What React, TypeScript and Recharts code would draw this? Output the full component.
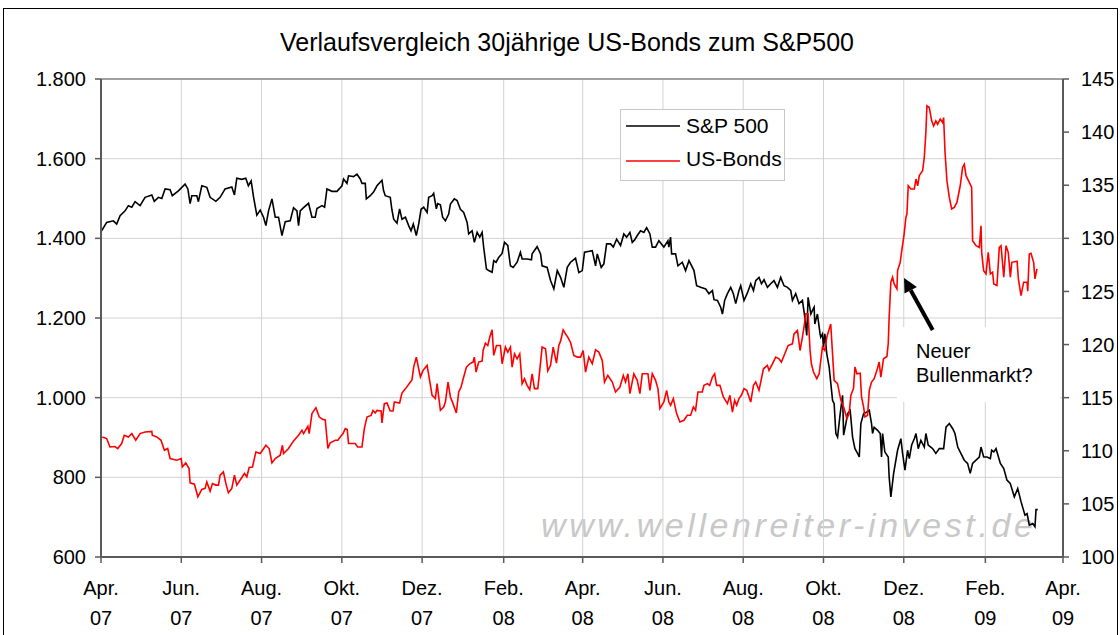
import { LineChart, Line, XAxis, YAxis, CartesianGrid, ReferenceLine } from "recharts"

const FONT = '"Liberation Sans", Arial, Helvetica, sans-serif'

// x values are days counted from 1 April 2007
const tickDays = [0, 61, 122, 183, 244, 306, 366, 427, 488, 549, 610, 672, 731]
const monthLabels = ["Apr.", "Jun.", "Aug.", "Okt.", "Dez.", "Feb.", "Apr.", "Jun.", "Aug.", "Okt.", "Dez.", "Feb.", "Apr."]
const yearLabels = ["07", "07", "07", "07", "07", "08", "08", "08", "08", "08", "08", "09", "09"]

const spTicks = [600, 800, 1000, 1200, 1400, 1600, 1800]
const bondTicks = [100, 105, 110, 115, 120, 125, 130, 135, 140, 145]

const spDays = [
  0.5, 4.3, 9.4, 11.9, 14.5, 18.3, 20.8, 23.4, 25.9, 29.7, 33.5, 38.6, 40.5, 43.6, 46.2, 48.7, 52.5, 54.2, 58.8, 63.9,
  66.0, 67.7, 69.0, 72.8, 74.0, 76.6, 80.4, 82.9, 87.3, 90.5, 94.3, 99.4, 101.4, 103.2, 107.0, 110.0, 112.0, 114.1, 115.9, 118.4,
  121.0, 123.5, 125.3, 127.3, 129.9, 132.4, 134.9, 137.5, 140.0, 143.8, 146.3, 148.9, 150.1, 151.4, 153.9, 157.7, 160.3, 162.8, 164.1, 167.9,
  169.9, 171.7, 175.5, 179.3, 183.1, 184.3, 186.9, 188.1, 191.9, 194.5, 197.0, 198.3, 200.8, 201.6, 204.6, 207.1, 209.7, 213.5, 214.7, 216.0,
  219.8, 221.0, 222.4, 224.9, 226.9, 228.7, 231.3, 233.8, 235.6, 237.3, 239.6, 241.4, 243.2, 245.2, 247.8, 249.0, 251.6, 252.8, 254.8, 255.8,
  257.9, 259.6, 261.7, 264.2, 265.5, 268.5, 270.6, 273.1, 275.6, 278.2, 279.4, 282.0, 283.7, 285.8, 287.8, 289.6, 290.8, 292.9, 294.6, 297.2,
  298.4, 300.2, 302.2, 304.8, 306.6, 309.1, 311.1, 313.2, 316.2, 318.7, 320.0, 323.8, 327.1, 327.6, 331.4, 334.0, 335.2, 339.0, 341.6, 344.1,
  346.7, 349.2, 351.7, 354.3, 356.8, 360.6, 363.1, 365.7, 367.4, 373.3, 375.8, 377.1, 380.1, 382.1, 384.2, 387.2, 389.3, 391.8, 394.8, 397.3,
  399.4, 401.9, 403.7, 405.5, 407.5, 410.0, 412.5, 414.6, 417.1, 418.9, 421.4, 423.9, 427.7, 430.8, 431.5, 432.8, 433.6, 436.6, 438.4, 441.7,
  444.2, 446.8, 450.6, 452.6, 455.7, 459.5, 462.0, 464.6, 465.8, 468.4, 470.9, 472.2, 473.9, 476.0, 478.5, 480.5, 482.3, 484.8, 486.1, 488.6,
  491.2, 493.7, 495.8, 497.5, 500.0, 501.9, 503.8, 506.4, 508.9, 511.4, 514.0, 516.5, 519.0, 521.6, 524.1, 525.4, 527.9, 530.4, 533.0, 534.8,
  536.3, 537.3, 539.4, 540.6, 541.9, 542.4, 544.4, 546.4, 546.9, 548.2, 549.0, 550.0, 551.5, 553.3, 555.9, 557.1, 558.4, 559.7, 561.7, 563.5,
  564.3, 566.0, 567.3, 569.3, 571.1, 572.9, 574.9, 576.2, 577.4, 579.5, 582.0, 583.8, 585.5, 586.3, 587.5, 590.1, 592.1, 593.1, 593.9, 595.6,
  598.2, 598.9, 600.2, 602.3, 605.3, 607.8, 609.1, 610.9, 612.9, 614.2, 616.0, 618.0, 619.3, 621.0, 623.0, 625.6, 626.8, 628.6, 631.9, 634.4,
  637.0, 640.3, 642.1, 644.6, 647.2, 648.9, 651.0, 653.4, 656.0, 658.5, 660.5, 662.3, 664.9, 667.4, 668.7, 670.7, 673.3, 675.8, 676.8, 678.4,
  680.1, 683.4, 686.0, 688.4, 690.9, 694.0, 696.6, 699.1, 702.1, 703.7, 705.4, 708.0, 709.7, 710.5, 711.8,
]
const spValues = [
  1419, 1440, 1444, 1436, 1457, 1469, 1482, 1478, 1492, 1482, 1503, 1509, 1493, 1503, 1500, 1524, 1522, 1507, 1519, 1536,
  1524, 1487, 1507, 1507, 1492, 1532, 1528, 1503, 1493, 1503, 1524, 1529, 1509, 1551, 1548, 1551, 1532, 1544, 1504, 1458,
  1471, 1453, 1432, 1469, 1499, 1453, 1453, 1407, 1442, 1444, 1477, 1469, 1432, 1469, 1477, 1488, 1453, 1453, 1475, 1482,
  1478, 1524, 1518, 1518, 1532, 1549, 1538, 1557, 1555, 1561, 1549, 1538, 1538, 1499, 1507, 1516, 1532, 1546, 1520, 1507,
  1503, 1473, 1448, 1438, 1474, 1448, 1453, 1432, 1419, 1436, 1407, 1436, 1473, 1478, 1465, 1503, 1507, 1513, 1474, 1487,
  1484, 1453, 1444, 1461, 1486, 1499, 1495, 1473, 1465, 1440, 1411, 1419, 1390, 1415, 1403, 1415, 1377, 1323, 1319, 1315,
  1344, 1340, 1352, 1362, 1390, 1382, 1331, 1327, 1340, 1365, 1348, 1348, 1346, 1361, 1379, 1361, 1331, 1327, 1294, 1273,
  1319, 1302, 1277, 1327, 1340, 1350, 1314, 1319, 1365, 1369, 1331, 1361, 1327, 1336, 1386, 1386, 1378, 1398, 1382, 1411,
  1403, 1415, 1390, 1396, 1407, 1419, 1415, 1427, 1411, 1378, 1378, 1394, 1378, 1394, 1378, 1403, 1361, 1361, 1331, 1340,
  1319, 1344, 1319, 1281, 1277, 1273, 1261, 1269, 1246, 1244, 1227, 1210, 1244, 1261, 1277, 1261, 1236, 1269, 1281, 1244,
  1263, 1286, 1269, 1294, 1302, 1286, 1296, 1277, 1286, 1294, 1277, 1302, 1281, 1277, 1269, 1244, 1261, 1236, 1244, 1202,
  1156, 1252, 1210, 1219, 1227, 1185, 1210, 1160, 1152, 1160, 1127, 1160, 1110, 1077, 993, 985, 910, 901, 960, 1006,
  906, 935, 960, 968, 901, 872, 860, 851, 935, 960, 964, 968, 935, 910, 926, 918, 910, 851, 910, 864,
  851, 801, 751, 810, 868, 897, 860, 818, 868, 847, 881, 897, 910, 872, 893, 876, 910, 881, 872, 860,
  872, 872, 926, 935, 922, 910, 876, 860, 843, 835, 810, 835, 843, 851, 876, 851, 851, 847, 868, 864,
  872, 835, 822, 793, 785, 751, 772, 739, 705, 709, 680, 684, 676, 719, 719,
]

const bondDays = [
  1.0, 4.3, 6.8, 10.6, 12.7, 15.7, 17.7, 20.8, 23.4, 26.4, 29.7, 33.5, 38.6, 39.0, 42.4, 45.6, 48.2, 50.7, 52.5, 57.6,
  60.9, 61.8, 64.4, 66.9, 67.7, 71.0, 73.6, 76.6, 79.1, 80.4, 82.9, 84.7, 87.3, 89.3, 90.5, 93.0, 94.9, 96.8, 99.4, 101.4,
  103.2, 106.5, 109.0, 110.8, 112.6, 115.1, 117.7, 121.0, 125.3, 127.8, 129.9, 132.4, 136.2, 137.9, 138.7, 142.5, 146.3, 150.1, 152.7, 153.9,
  157.2, 158.2, 160.3, 163.3, 165.8, 168.3, 170.4, 172.4, 174.2, 178.0, 180.0, 181.8, 183.9, 185.6, 187.1, 188.1, 193.2, 195.0, 198.3, 200.1,
  202.1, 205.2, 206.7, 208.4, 209.7, 212.8, 213.5, 215.3, 217.3, 219.8, 221.9, 222.9, 226.9, 228.7, 231.3, 235.1, 236.3, 237.6, 239.6, 241.4,
  242.7, 244.7, 247.8, 249.7, 251.6, 254.1, 255.4, 256.6, 257.9, 260.4, 261.7, 263.7, 265.5, 267.5, 270.0, 271.8, 273.6, 275.6, 277.7, 280.2,
  282.7, 283.7, 285.0, 287.0, 289.6, 290.4, 292.1, 293.9, 295.4, 297.2, 298.4, 300.5, 303.5, 304.8, 307.3, 309.1, 311.1, 312.4, 314.2, 316.2,
  318.2, 320.0, 321.8, 323.8, 325.8, 327.6, 329.4, 331.9, 333.4, 335.2, 337.8, 339.5, 341.6, 343.6, 346.1, 347.9, 349.2, 351.2, 353.0, 354.7,
  356.8, 359.3, 361.9, 364.4, 366.4, 368.2, 370.7, 373.3, 375.8, 378.3, 380.9, 382.6, 385.1, 388.5, 391.0, 394.3, 396.9, 398.6, 400.4, 401.9,
  404.9, 407.5, 409.5, 411.3, 415.6, 417.1, 418.9, 421.4, 423.2, 424.7, 427.7, 429.8, 431.5, 432.8, 434.9, 437.4, 439.9, 443.0, 445.5, 448.0,
  450.1, 451.8, 453.6, 456.9, 458.2, 460.8, 462.5, 464.6, 466.3, 467.8, 470.3, 472.9, 476.0, 477.9, 479.8, 481.5, 483.0, 484.8, 486.6, 488.6,
  490.7, 493.7, 495.8, 497.5, 500.0, 501.3, 503.4, 506.4, 507.6, 510.2, 512.7, 515.2, 517.0, 519.6, 522.1, 525.4, 526.6, 529.2, 531.2, 533.0,
  534.2, 535.5, 537.3, 538.8, 539.8, 541.4, 543.9, 545.7, 548.2, 550.0, 551.5, 554.5, 557.1, 559.7, 562.2, 564.3, 566.8, 568.5, 569.8, 571.8,
  572.9, 574.4, 576.9, 577.9, 579.5, 580.5, 582.5, 583.8, 585.5, 587.5, 589.6, 591.3, 592.6, 594.6, 597.2, 598.2, 598.9, 600.2, 601.5, 602.7,
  604.8, 605.3, 607.3, 608.3, 610.3, 611.6, 612.4, 613.4, 615.4, 618.0, 619.3, 620.6, 621.8, 624.3, 625.6, 626.8, 627.6, 629.4, 631.2, 632.7,
  634.4, 635.7, 637.7, 639.5, 640.3, 641.3, 642.8, 644.6, 646.4, 648.4, 650.4, 652.9, 654.7, 656.0, 657.3, 659.8, 661.6, 662.3, 664.9, 667.4,
  668.7, 669.2, 670.7, 672.5, 674.2, 675.8, 677.5, 678.4, 680.8, 682.6, 683.9, 686.0, 687.7, 689.4, 691.0, 692.1, 696.1, 697.1, 699.1, 701.1,
  703.7, 704.2, 705.4, 706.7, 708.7, 709.7, 711.2,
]
const bondValues = [
  111.3, 111.15, 110.36, 110.4, 110.21, 110.68, 111.46, 111.3, 111.62, 110.99, 111.62, 111.77, 111.83, 111.46, 111.3, 110.99, 110.05, 110.21, 109.27, 109.11,
  109.27, 108.48, 108.86, 108.33, 106.98, 106.85, 105.67, 106.36, 106.46, 107.07, 106.2, 106.92, 106.77, 106.77, 107.7, 108.01, 106.92, 106.04, 106.46, 107.7,
  106.77, 107.39, 107.86, 107.55, 108.43, 108.48, 109.89, 109.74, 110.52, 110.21, 108.86, 109.27, 109.58, 110.52, 109.74, 110.21, 110.93, 111.46, 111.93, 111.62,
  112.31, 111.62, 113.5, 114.06, 113.2, 112.96, 112.9, 110.21, 110.75, 110.99, 111.0, 111.3, 111.62, 112.09, 112.0, 110.68, 110.68, 110.36, 110.36, 112.09,
  113.18, 113.33, 113.8, 113.56, 113.8, 113.74, 112.62, 114.44, 114.5, 113.74, 113.74, 114.59, 114.5, 115.44, 115.83, 116.47, 116.67, 117.88, 118.82, 117.72,
  116.94, 117.57, 118.04, 116.63, 115.22, 114.91, 116.32, 115.07, 113.81, 114.12, 114.59, 116.47, 115.07, 114.44, 113.56, 115.54, 116.0, 116.94, 117.88, 118.19,
  118.35, 118.82, 117.41, 118.35, 118.44, 119.44, 120.13, 119.91, 120.69, 121.39, 118.98, 119.91, 119.91, 118.19, 119.76, 119.29, 119.76, 117.88, 119.13, 118.66,
  119.13, 116.32, 116.79, 116.16, 115.75, 117.25, 115.85, 115.85, 117.57, 119.76, 119.6, 117.51, 118.04, 119.76, 118.25, 119.91, 120.32, 121.39, 121.01, 120.69,
  120.2, 118.98, 118.82, 118.82, 119.44, 117.41, 118.82, 118.19, 119.51, 119.29, 118.5, 116.47, 117.1, 116.47, 115.54, 116.0, 117.1, 116.47, 117.25, 115.38,
  117.25, 116.63, 115.38, 117.25, 117.25, 115.69, 117.25, 116.63, 115.85, 113.97, 114.59, 115.69, 114.59, 114.28, 114.91, 113.5, 112.71, 112.87, 113.34, 113.34,
  114.12, 113.81, 115.54, 115.54, 116.16, 116.32, 116.16, 116.94, 117.25, 116.16, 116.16, 115.07, 114.44, 115.22, 113.65, 114.75, 114.28, 114.91, 115.22, 115.85,
  115.69, 114.59, 116.16, 116.47, 115.69, 116.47, 117.72, 118.04, 117.57, 118.19, 118.82, 118.66, 118.35, 119.13, 119.91, 120.07, 121.01, 121.32, 119.44, 120.69,
  121.63, 122.89, 122.89, 119.44, 118.19, 117.41, 116.79, 117.25, 119.76, 119.44, 120.69, 121.94, 116.63, 116.32, 114.75, 114.12, 113.03, 113.5, 115.22, 115.85,
  117.88, 117.25, 117.31, 115.07, 114.12, 113.18, 113.34, 115.69, 116.47, 116.79, 117.57, 118.35, 116.94, 118.66, 118.88, 120.07, 122.58, 125.87, 126.34, 125.71,
  125.25, 126.96, 127.74, 128.68, 130.4, 131.97, 132.28, 134.95, 134.64, 134.64, 135.58, 134.95, 135.9, 136.36, 137.61, 139.96, 142.47, 142.31, 141.06, 140.59,
  141.06, 140.74, 141.22, 140.9, 141.37, 138.24, 135.42, 133.85, 132.76, 132.91, 133.38, 134.95, 136.67, 136.98, 135.9, 135.27, 134.8, 129.78, 129.31, 129.15,
  131.19, 128.68, 126.96, 126.65, 128.68, 126.65, 126.81, 125.71, 125.56, 129.15, 129.31, 126.34, 129.31, 128.68, 126.34, 127.74, 127.84, 126.18, 124.61, 125.87,
  125.87, 125.02, 128.52, 128.58, 127.74, 126.18, 127.12,
]

const spData = spDays.map((d, i) => ({ d, v: spValues[i] }))
const bondData = bondDays.map((d, i) => ({ d, v: bondValues[i] }))

const formatThousands = (v: number) => {
  const s = String(v)
  return s.length > 3 ? s.slice(0, s.length - 3) + "." + s.slice(-3) : s
}

function MonthTick({ x, y, payload }: any) {
  const i = tickDays.indexOf(payload.value)
  return (
    <text x={x} y={y} textAnchor="middle" fontSize={20} fontFamily={FONT} fill="#000">
      <tspan x={x} dy={30}>{monthLabels[i]}</tspan>
      <tspan x={x} dy={30}>{yearLabels[i]}</tspan>
    </text>
  )
}

const axisStyle = { stroke: "#5a5a5a", strokeWidth: 2 }
const tickStyle = { fontSize: 20, fontFamily: FONT, fill: "#000" }

export default function App() {
  return (
    <div style={{ position: "absolute", left: 0, top: 0, width: 1120, height: 635, background: "#fff", overflow: "hidden" }}>
      {/* watermark sits under the lines */}
      <svg width={1120} height={635} style={{ position: "absolute", left: 0, top: 0 }}>
        <text x={541} y={537} fontSize={34} fontStyle="italic" fontFamily={FONT} letterSpacing={3.6} fill="#c8c8c8">
          www.wellenreiter-invest.de
        </text>
      </svg>

      <LineChart
        width={1120}
        height={635}
        margin={{ top: 79, right: 2, bottom: 18, left: 41 }}
        style={{ position: "absolute", left: 0, top: 0 }}
      >
        <CartesianGrid yAxisId="left" stroke="#d2d2d2" strokeWidth={1} />
        <XAxis
          dataKey="d"
          type="number"
          domain={[0, 731]}
          ticks={tickDays}
          interval={0}
          height={60}
          axisLine={axisStyle}
          tickLine={{ stroke: "#5a5a5a", strokeWidth: 1.5 }}
          tickSize={6}
          tick={<MonthTick />}
          allowDuplicatedCategory={false}
        />
        <YAxis
          yAxisId="left"
          domain={[600, 1800]}
          ticks={spTicks}
          interval={0}
          width={60}
          axisLine={axisStyle}
          tickLine={{ stroke: "#5a5a5a", strokeWidth: 1.5 }}
          tickSize={6}
          tickMargin={9}
          tick={tickStyle}
          tickFormatter={formatThousands}
        />
        <YAxis
          yAxisId="right"
          orientation="right"
          domain={[100, 145]}
          ticks={bondTicks}
          interval={0}
          width={55}
          axisLine={axisStyle}
          tickLine={{ stroke: "#5a5a5a", strokeWidth: 1.5 }}
          tickSize={6}
          tickMargin={12}
          tick={{ ...tickStyle, textAnchor: "start" }}
        />
        <ReferenceLine yAxisId="left" y={1800} stroke="#888" strokeWidth={1.5} />
        <Line
          yAxisId="left"
          data={spData}
          dataKey="v"
          type="linear"
          stroke="#000"
          strokeWidth={1.6}
          dot={false}
          isAnimationActive={false}
        />
        <Line
          yAxisId="right"
          data={bondData}
          dataKey="v"
          type="linear"
          stroke="#ff0000"
          strokeWidth={1.6}
          dot={false}
          isAnimationActive={false}
        />
      </LineChart>

      {/* title, legend, annotation */}
      <svg width={1120} height={635} style={{ position: "absolute", left: 0, top: 0, pointerEvents: "none" }}>
        <rect x={3.5} y={8.5} width={1114} height={640} fill="none" stroke="#000" strokeWidth={1} />
        <text x={567} y={51} textAnchor="middle" fontSize={25} fontFamily={FONT} fill="#000">
          Verlaufsvergleich 30jährige US-Bonds zum S&amp;P500
        </text>

        <rect x={620.5} y={109.5} width={164} height={71} fill="#fff" stroke="#c8c8c8" strokeWidth={1} />
        <line x1={626} y1={126} x2={680} y2={126} stroke="#000" strokeWidth={1.6} />
        <text x={686} y={133} fontSize={21} fontFamily={FONT} fill="#000">S&amp;P 500</text>
        <line x1={626} y1={161} x2={680} y2={161} stroke="#ff0000" strokeWidth={1.6} />
        <text x={686} y={166} fontSize={21} fontFamily={FONT} fill="#000">US-Bonds</text>

        <rect x={897} y={327} width={163} height={75} fill="#fff" />
        <line x1={932.7} y1={330} x2={910.7} y2={290.3} stroke="#000" strokeWidth={4} />
        <polygon points="904,278 916.9,287 904.5,293.6" fill="#000" />
        <text x={916} y={358} fontSize={20} fontFamily={FONT} fill="#000">Neuer</text>
        <text x={916} y={382} fontSize={20} fontFamily={FONT} fill="#000">Bullenmarkt?</text>
      </svg>
    </div>
  )
}
